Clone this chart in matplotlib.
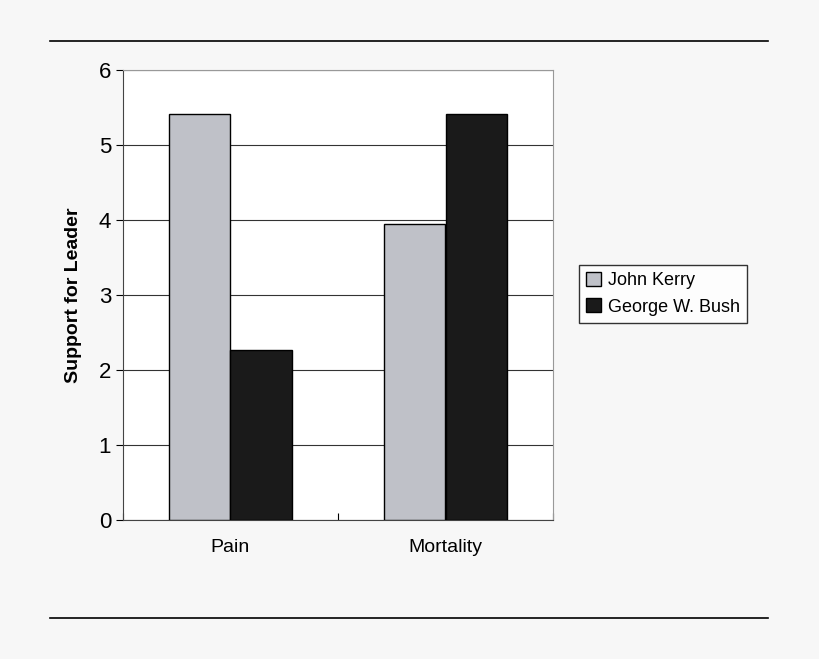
import matplotlib
matplotlib.use("Agg")
import matplotlib.pyplot as plt
from matplotlib.lines import Line2D
import numpy as np

categories = ["Pain", "Mortality"]
kerry = [5.42, 3.95]
bush = [2.27, 5.42]
series_names = ["John Kerry", "George W. Bush"]

plt.rcParams['font.family'] = ['Liberation Sans', 'DejaVu Sans']
fig = plt.figure(figsize=(8.2, 6.59), dpi=100, facecolor='#f7f7f7')
ax = fig.add_axes([123/820, 139/659, 430/820, 450/659])
ax.set_facecolor('white')
x = np.arange(len(categories))
w = 0.284
ax.bar(x - w/2, kerry, w, color='#bfc1c8', edgecolor='black', linewidth=1, label=series_names[0], zorder=3)
ax.bar(x + w/2, bush, w, color='#1a1a1a', edgecolor='black', linewidth=1, label=series_names[1], zorder=3)
ax.set_xlim(-0.5, 1.5)
ax.set_ylim(0, 6)
ax.set_yticks(range(7))
ax.yaxis.grid(True, color='#333333', linewidth=0.8, zorder=0)
ax.set_xticks([-0.5, 0.5, 1.5], minor=False)
ax.set_xticklabels([])
ax.set_xticks(x, minor=True)
ax.set_xticklabels(categories, minor=True, fontsize=14)
ax.tick_params(axis='x', which='minor', length=0, pad=14)
ax.tick_params(axis='x', which='major', length=5, direction='in')
ax.tick_params(axis='y', labelsize=16, length=5, direction='out')
ax.set_ylabel("Support for Leader", fontsize=14, fontweight='bold', labelpad=12)
for s in ['top', 'right']:
    ax.spines[s].set_color('#999999')
for s in ['left', 'bottom']:
    ax.spines[s].set_color('#444444')
leg = fig.legend(loc='upper left', bbox_to_anchor=(570/820, 1 - 256/659), fontsize=13,
                 frameon=True, fancybox=False, edgecolor='black', handlelength=0.8,
                 handleheight=0.8, borderpad=0.4, labelspacing=0.5, handletextpad=0.4)
leg.get_frame().set_linewidth(1)
fig.add_artist(Line2D([50/820, 768/820], [1 - 41/659, 1 - 41/659], color='black', linewidth=1.2))
fig.add_artist(Line2D([50/820, 768/820], [1 - 618/659, 1 - 618/659], color='black', linewidth=1.2))
fig.savefig("out.png", dpi=100, facecolor=fig.get_facecolor())
